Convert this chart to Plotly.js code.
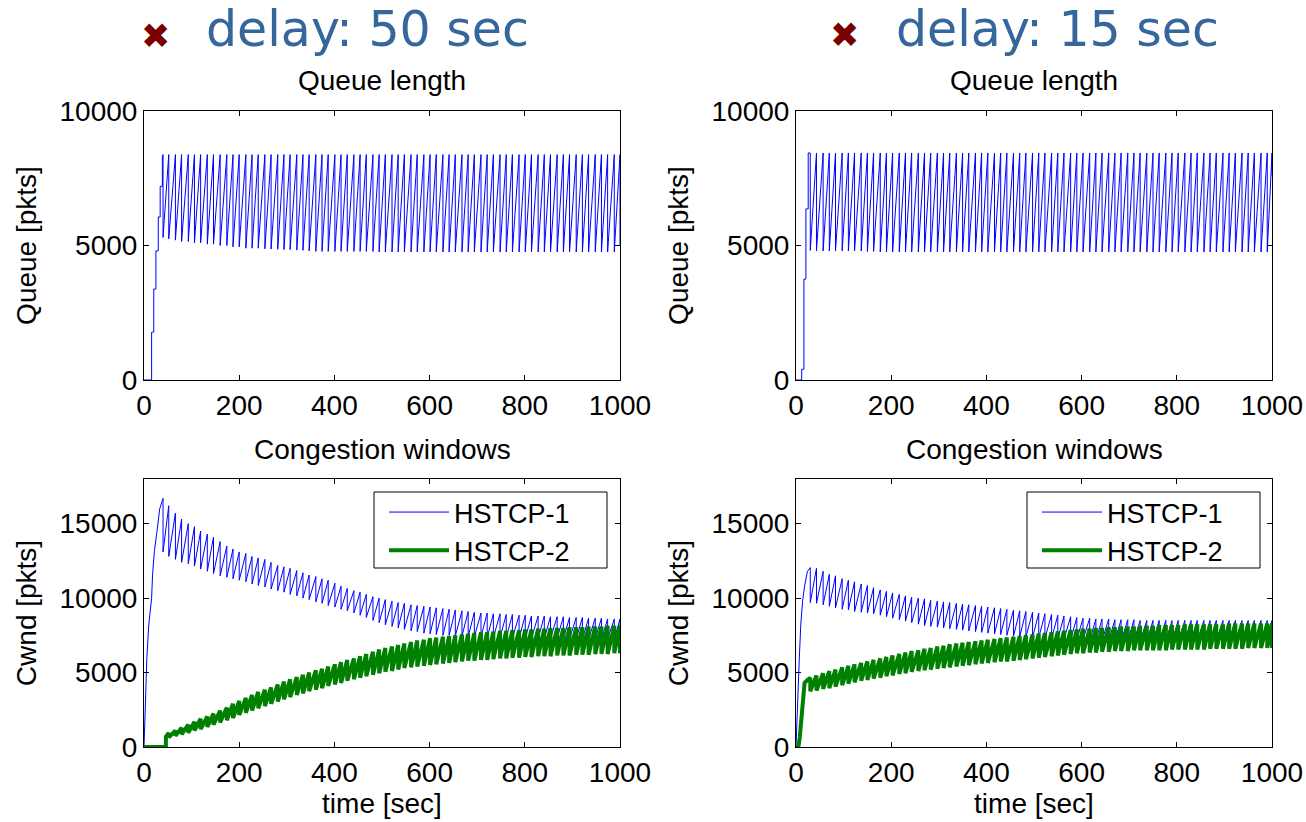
<!DOCTYPE html>
<html>
<head>
<meta charset="utf-8">
<script src="https://cdn.plot.ly/plotly-3.0.1.min.js"></script>
<style>html,body{margin:0;padding:0;background:#fff;}#chart{width:1306px;height:822px;}</style>
</head>
<body>
<div id="chart"></div>
<script>
// ---------- data ----------
const panelTitles = ["delay: 50 sec", "delay: 15 sec"];
const seriesNames = ["HSTCP-1", "HSTCP-2"];
const xTicks = [0, 200, 400, 600, 800, 1000];
const queueTicks = [0, 5000, 10000];
const cwndTicks = [0, 5000, 10000, 15000];

// ---- delay 50 sec ----
// loss / queue-drop instants (sec)
const tA = [40,52,66,79,93,106,119,133,146,160,174,187,200,214,227,240,254,267,281,294,307,321,334,347,361,374,387,401,414,427,441,454,467,481,494,507,521,534,547,561,574,588,601,614,628,641,654,668,681,694,708,721,734,748,761,774,788,801,814,828,841,854,868,881,894,908,921,934,948,961,974,988,1000];
// queue start-up
const qAInitT = [0,16,16,20.5,20.5,25,25,30,30,34,34,38.6,38.6];
const qAInitY = [0,0,1780,1780,3380,3380,4800,4800,6060,6060,7200,7200,8330];
const qAPeak = [8380,8380,8380,8380,8380,8380,8380,8380,8380,8380,8380,8380,8380,8380,8380,8380,8380,8380,8380,8380,8380,8380,8380,8380,8380,8380,8380,8380,8380,8380,8380,8380,8380,8380,8380,8380,8380,8380,8380,8380,8380,8380,8380,8380,8380,8380,8380,8380,8380,8380,8380,8380,8380,8380,8380,8380,8380,8380,8380,8380,8380,8380,8380,8380,8380,8380,8380,8380,8380,8380,8380,8380,8380];
const qATrough = [5300,5250,5200,5150,5150,5100,5100,5050,5050,5000,5000,4950,4950,4900,4900,4900,4880,4870,4860,4850,4850,4830,4820,4800,4780,4780,4780,4780,4780,4780,4780,4780,4780,4780,4760,4760,4760,4760,4760,4760,4760,4760,4760,4760,4760,4760,4760,4760,4760,4760,4760,4760,4760,4760,4760,4760,4760,4760,4760,4760,4760,4760,4760,4760,4760,4760,4760,4760,4760,4760,4760,4760,5000];
// HSTCP-1 cwnd
const c1AInitT = [0,2,4,6,10,16,18,22,27,33,38];
const c1AInitY = [0,1940,4000,6000,8200,10000,11600,13200,14400,16000,16500];
const c1APeak = [16700,16200,15700,15300,15000,14800,14500,14300,14100,13800,13500,13300,13100,13000,12800,12700,12600,12400,12200,12100,12000,11850,11700,11550,11450,11300,11200,11000,10800,10650,10500,10400,10250,10100,10000,9900,9800,9700,9650,9550,9500,9450,9400,9350,9300,9250,9200,9150,9100,9050,9000,9000,8950,8950,8900,8900,8850,8850,8800,8800,8800,8750,8750,8750,8700,8700,8700,8650,8650,8650,8600,8600,8600];
const c1ATrough = [13100,12800,12600,12400,12300,12150,11950,11800,11650,11500,11400,11300,11200,11100,10950,10850,10750,10600,10500,10400,10250,10150,10000,9900,9750,9650,9500,9400,9250,9150,9000,8850,8700,8500,8350,8200,8100,8000,7900,7800,7750,7650,7600,7550,7500,7500,7450,7450,7400,7400,7400,7350,7350,7350,7350,7300,7300,7300,7300,7300,7300,7300,7300,7250,7250,7250,7250,7250,7250,7250,7250,7250,7250];
// HSTCP-2 cwnd (flow starts after the delay)
const c2AInitT = [0,46,46];
const c2AInitY = [0,0,700];
const c2APeak = [950,1100,1300,1500,1700,1900,2050,2250,2450,2650,2900,3100,3300,3500,3700,3850,4000,4200,4400,4550,4700,4850,5000,5150,5250,5400,5550,5700,5850,5950,6100,6250,6400,6550,6650,6750,6850,6950,7050,7150,7200,7300,7350,7400,7450,7500,7550,7600,7650,7700,7700,7750,7800,7800,7850,7850,7900,7900,7950,7950,8000,8000,8000,8050,8050,8050,8100,8100,8100,8150,8150,8150];
const c2ATrough = [650,750,850,950,1100,1200,1350,1500,1650,1800,1950,2150,2300,2450,2600,2750,2900,3050,3200,3350,3500,3600,3750,3850,3950,4100,4200,4300,4450,4550,4650,4750,4850,4950,5050,5100,5200,5300,5350,5400,5450,5500,5550,5600,5650,5700,5750,5800,5800,5850,5850,5900,5950,5950,6000,6000,6050,6050,6100,6100,6100,6150,6150,6150,6200,6200,6200,6250,6250,6250,6300,6300];

// ---- delay 15 sec ----
const tB = [30,43,57,70,83,97,110,123,137,150,163,177,190,203,217,230,243,257,270,283,297,310,323,337,350,363,377,390,403,417,430,443,457,470,483,497,510,523,537,550,563,577,590,603,617,630,643,657,670,683,697,710,723,737,750,763,777,790,803,817,830,843,857,870,883,897,910,923,937,950,963,977,990,1000];
const qBInitT = [0,12,12,16.6,16.6,20.8,20.8,25.6,25.6];
const qBInitY = [0,0,400,400,3750,3750,6360,6360,8440];
const qBPeak = [8440,8440,8440,8440,8440,8440,8440,8440,8440,8440,8440,8440,8440,8440,8440,8440,8440,8440,8440,8440,8440,8440,8440,8440,8440,8440,8440,8440,8440,8440,8440,8440,8440,8440,8440,8440,8440,8440,8440,8440,8440,8440,8440,8440,8440,8440,8440,8440,8440,8440,8440,8440,8440,8440,8440,8440,8440,8440,8440,8440,8440,8440,8440,8440,8440,8440,8440,8440,8440,8440,8440,8440,8440,8440];
const qBTrough = [4820,4800,4800,4800,4800,4800,4800,4800,4800,4780,4780,4760,4760,4760,4760,4760,4760,4760,4760,4760,4760,4760,4760,4760,4760,4760,4760,4760,4760,4760,4760,4760,4760,4760,4760,4760,4760,4760,4760,4760,4760,4760,4760,4760,4760,4760,4760,4760,4760,4760,4760,4760,4760,4760,4760,4760,4760,4760,4760,4760,4760,4760,4760,4760,4760,4760,4760,4760,4760,4760,4760,4760,4760,7600];
const c1BInitT = [0,2,4,7,10,14,18,24];
const c1BInitY = [0,1940,4000,6000,8200,9850,10800,11800];
const c1BPeak = [12050,12000,11800,11600,11500,11300,11200,11100,10950,10850,10700,10550,10450,10350,10250,10150,10050,10000,9950,9850,9800,9750,9700,9650,9600,9550,9500,9450,9400,9350,9300,9250,9200,9150,9100,9050,9000,8950,8900,8850,8800,8750,8700,8650,8650,8600,8600,8600,8550,8550,8550,8550,8500,8500,8500,8500,8500,8500,8500,8500,8500,8500,8500,8500,8500,8500,8500,8500,8500,8500,8500,8500,8500,8500];
const c1BTrough = [9700,9650,9550,9450,9350,9250,9200,9100,9050,9000,8950,8850,8750,8650,8550,8450,8350,8250,8150,8100,8050,8000,7950,7900,7850,7800,7750,7700,7650,7600,7550,7500,7450,7400,7400,7350,7350,7300,7300,7250,7250,7200,7200,7200,7150,7150,7150,7150,7150,7100,7100,7100,7100,7100,7100,7100,7100,7100,7100,7100,7100,7100,7100,7100,7100,7100,7100,7100,7100,7100,7100,7100,7100,7100];
const c2BInitT = [0,5,8,12,15,18,24];
const c2BInitY = [0,0,670,2280,3620,4300,4500];
const c2BPeak = [4650,4800,4950,5100,5200,5350,5450,5550,5650,5750,5850,5950,6050,6150,6250,6350,6450,6500,6600,6650,6750,6800,6900,6950,7000,7050,7100,7150,7200,7250,7300,7350,7400,7450,7500,7550,7600,7650,7700,7750,7800,7850,7900,7950,7950,8000,8000,8050,8050,8100,8100,8100,8150,8150,8150,8200,8200,8200,8200,8250,8250,8250,8250,8250,8250,8250,8300,8300,8300,8300,8300,8300,8300,8300];
const c2BTrough = [3750,3800,3900,3950,4050,4150,4250,4350,4450,4500,4600,4650,4750,4800,4900,4950,5050,5100,5150,5200,5250,5300,5350,5400,5450,5500,5550,5600,5650,5700,5750,5750,5800,5850,5900,5950,6000,6050,6100,6150,6200,6250,6300,6300,6350,6350,6400,6400,6450,6450,6450,6500,6500,6500,6500,6500,6500,6550,6550,6550,6550,6550,6550,6600,6600,6600,6600,6600,6600,6650,6650,6650,6650,6650];

// ---------- build traces ----------
function saw(initT, initY, t, pk, tr) {
  const x = initT.slice(), y = initY.slice();
  const n = Math.min(t.length, pk.length, tr.length);
  for (let i = 0; i < n; i++) { x.push(t[i], t[i]); y.push(pk[i], tr[i]); }
  return {x, y};
}
const BLUE = '#0000ff', GREEN = '#008000';
const qA = saw(qAInitT, qAInitY, tA, qAPeak, qATrough);
const qB = saw(qBInitT, qBInitY, tB, qBPeak, qBTrough);
const c1A = saw(c1AInitT, c1AInitY, tA, c1APeak, c1ATrough);
const c2A = saw(c2AInitT, c2AInitY, tA.slice(1), c2APeak, c2ATrough);
const c1B = saw(c1BInitT, c1BInitY, tB, c1BPeak, c1BTrough);
const c2B = saw(c2BInitT, c2BInitY, tB, c2BPeak, c2BTrough);

const data = [
  {x: qA.x, y: qA.y, xaxis: 'x', yaxis: 'y', mode: 'lines', line: {color: BLUE, width: 1}, showlegend: false},
  {x: qB.x, y: qB.y, xaxis: 'x2', yaxis: 'y2', mode: 'lines', line: {color: BLUE, width: 1}, showlegend: false},
  {x: c1A.x, y: c1A.y, xaxis: 'x3', yaxis: 'y3', mode: 'lines', name: seriesNames[0], line: {color: BLUE, width: 1}, legend: 'legend'},
  {x: c2A.x, y: c2A.y, xaxis: 'x3', yaxis: 'y3', mode: 'lines', name: seriesNames[1], line: {color: GREEN, width: 4}, legend: 'legend'},
  {x: c1B.x, y: c1B.y, xaxis: 'x4', yaxis: 'y4', mode: 'lines', name: seriesNames[0], line: {color: BLUE, width: 1}, legend: 'legend2'},
  {x: c2B.x, y: c2B.y, xaxis: 'x4', yaxis: 'y4', mode: 'lines', name: seriesNames[1], line: {color: GREEN, width: 4}, legend: 'legend2'}
];

// ---------- layout ----------
const FONT = 'Liberation Sans, Arial, Helvetica, sans-serif';
const TF = {family: FONT, size: 28, color: '#000'};
function xax(dom, anchor, title) {
  const a = {domain: dom, anchor: anchor, range: [0, 1000], tickvals: xTicks, tickformat: 'd',
    ticks: 'inside', ticklen: 5, tickcolor: '#000', showline: true, linecolor: '#000', linewidth: 1,
    mirror: 'ticks', showgrid: false, zeroline: false, tickfont: TF, automargin: false};
  if (title) a.title = {text: title, font: TF, standoff: 5};
  return a;
}
function yax(dom, anchor, range, ticks, title) {
  return {domain: dom, anchor: anchor, range: range, tickvals: ticks, tickformat: 'd',
    ticks: 'inside', ticklen: 5, tickcolor: '#000', showline: true, linecolor: '#000', linewidth: 1,
    mirror: 'ticks', showgrid: false, zeroline: false, tickfont: TF, automargin: false,
    title: {text: title, font: TF, standoff: 14}};
}
const W = 1306, H = 822;
const xL = [144 / W, 620 / W], xR = [796 / W, 1272 / W];
const yT = [1 - 380 / H, 1 - 111 / H], yBt = [1 - 747 / H, 1 - 479 / H];
const legendBase = {xanchor: 'left', yanchor: 'top', bgcolor: 'rgba(0,0,0,0)', borderwidth: 0,
  font: {family: FONT, size: 27, color: '#000'}, itemwidth: 60, tracegroupgap: 0};

function legendBox(x0, x1) {
  return {type: 'rect', xref: 'paper', yref: 'paper', x0: x0 / W, x1: x1 / W, y0: 1 - 568 / H, y1: 1 - 492 / H,
    line: {color: '#000', width: 1}, fillcolor: '#fff', layer: 'above'};
}
function ann(x, y, text, font) {
  return {xref: 'paper', yref: 'paper', x: x / W, y: 1 - y / H, text: text, showarrow: false,
    xanchor: 'center', yanchor: 'middle', font: font};
}
const XFONT = {family: 'DejaVu Sans', size: 35, color: '#7a0000'};
const BIG = {family: 'DejaVu Sans, Verdana, sans-serif', size: 49, color: '#35679c'};

const layout = {
  width: W, height: H, margin: {l: 0, r: 0, t: 0, b: 0},
  paper_bgcolor: '#fff', plot_bgcolor: '#fff',
  font: {family: FONT, size: 28, color: '#000'},
  xaxis: xax(xL, 'y'), yaxis: yax(yT, 'x', [0, 10000], queueTicks, 'Queue [pkts]'),
  xaxis2: xax(xR, 'y2'), yaxis2: yax(yT, 'x2', [0, 10000], queueTicks, 'Queue [pkts]'),
  xaxis3: xax(xL, 'y3', 'time [sec]'), yaxis3: yax(yBt, 'x3', [0, 18000], cwndTicks, 'Cwnd [pkts]'),
  xaxis4: xax(xR, 'y4', 'time [sec]'), yaxis4: yax(yBt, 'x4', [0, 18000], cwndTicks, 'Cwnd [pkts]'),
  legend: Object.assign({x: 384 / W, y: 1 - 488 / H}, legendBase),
  legend2: Object.assign({x: 1037 / W, y: 1 - 488 / H}, legendBase),
  shapes: [legendBox(374, 607), legendBox(1027, 1260)],
  annotations: [
    ann(155, 36, '✖', XFONT),
    ann(367, 29, panelTitles[0], BIG),
    ann(844, 35, '✖', XFONT),
    ann(1057, 29, panelTitles[1], BIG),
    ann(382, 80, 'Queue length', TF),
    ann(1034, 80, 'Queue length', TF),
    ann(382, 449, 'Congestion windows', TF),
    ann(1034, 449, 'Congestion windows', TF)
  ]
};

Plotly.newPlot('chart', data, layout, {staticPlot: true, displayModeBar: false});
</script>
</body>
</html>
